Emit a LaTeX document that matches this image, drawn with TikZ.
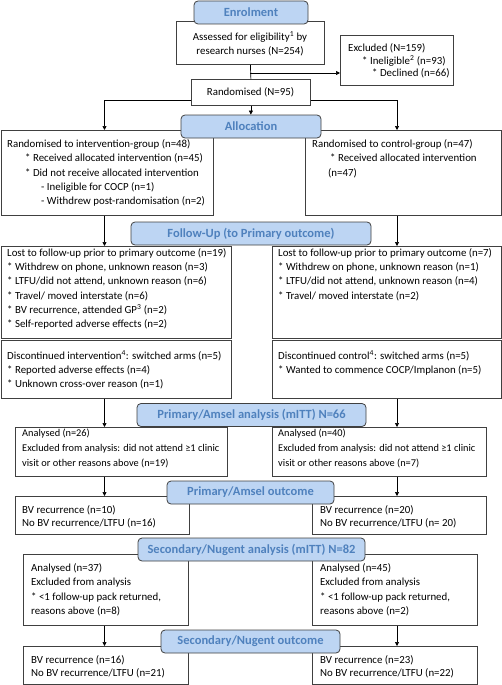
\documentclass[tikz,border=0pt]{standalone}
\usepackage{fontspec}
\setmainfont{Carlito}
\usetikzlibrary{arrows.meta}
\definecolor{hdrfill}{HTML}{BDD5F3}
\definecolor{hdrtext}{HTML}{4F81BD}
\definecolor{bord}{HTML}{404040}
\tikzset{
 bx/.style={draw=bord, line width=0.8pt, fill=white, rectangle, inner sep=0pt, anchor=north west},
 hdr/.style={draw=bord, line width=0.8pt, fill=hdrfill, rounded corners=4pt, inner sep=0pt, minimum height=23pt, font=\fontsize{12.5}{14}\selectfont\bfseries, text=hdrtext},
 txt/.style={inner sep=0pt, anchor=north west, align=left, font=\fontsize{10.85}{14.3}\selectfont},
 arr/.style={-{Triangle[length=4pt,width=4pt]}, line width=0.7pt},
 ln/.style={line width=0.7pt},
}
\newcommand\ind[1]{\hspace*{#1pt}}
\begin{document}
\begin{tikzpicture}[x=1pt,y=-1pt]
\useasboundingbox (0,0) rectangle (502,685);
% boxes
\node[bx, minimum width=148pt, minimum height=43pt] (asm) at (176,21) {};
\node[bx, minimum width=113pt, minimum height=50pt] (exc) at (340,35) {};
\node[bx, minimum width=119pt, minimum height=26pt] (rand) at (191,79) {};
\node[bx, minimum width=212pt, minimum height=85pt] (alL) at (0.5,130) {};
\node[bx, minimum width=196pt, minimum height=85pt] (alR) at (305,130) {};
\node[bx, minimum width=230pt, minimum height=92pt] (ltL) at (0.5,246) {};
\node[bx, minimum width=229pt, minimum height=92pt] (ltR) at (272,246) {};
\node[bx, minimum width=230pt, minimum height=58pt] (dcL) at (0.5,340) {};
\node[bx, minimum width=229pt, minimum height=58pt] (dcR) at (272,340) {};
\node[bx, minimum width=212pt, minimum height=49pt] (anL) at (15,427) {};
\node[bx, minimum width=214pt, minimum height=49pt] (anR) at (272,427) {};
\node[bx, minimum width=174pt, minimum height=38pt] (poL) at (15,496) {};
\node[bx, minimum width=174pt, minimum height=38pt] (poR) at (312,496) {};
\node[bx, minimum width=165pt, minimum height=71pt] (saL) at (23,554) {};
\node[bx, minimum width=165pt, minimum height=71pt] (saR) at (312,554) {};
\node[bx, minimum width=165pt, minimum height=38pt] (soL) at (23,646) {};
\node[bx, minimum width=165pt, minimum height=38pt] (soR) at (312,646) {};
% texts
\node[txt, anchor=north, align=center, font=\fontsize{10.85}{14.7}\selectfont] (asmt) at (250,31) {Assessed for eligibility\textsuperscript{1} by\\research nurses (N=254)};
\node[txt, font=\fontsize{10.85}{12.3}\selectfont] (exct) at (348,43.7) {Excluded (N=159)\\\ind{14}* Ineligible\textsuperscript{2} (n=93)\\\ind{24}* Declined (n=66)};
\node[txt, anchor=north] (randt) at (250.5,87.3) {Randomised (N=95)};
\node[txt] (alLt) at (7,139.3) {Randomised to intervention-group (n=48)\\\ind{18}* Received allocated intervention (n=45)\\\ind{18}* Did not receive allocated intervention\\\ind{34}- Ineligible for COCP (n=1)\\\ind{34}- Withdrew post-randomisation (n=2)};
\node[txt] (alRt) at (312,139.3) {Randomised to control-group (n=47)\\\ind{18}* Received allocated intervention\\\ind{16}(n=47)};
\node[txt, font=\fontsize{10.85}{14.2}\selectfont] (ltLt) at (7,248.3) {Lost to follow-up prior to primary outcome (n=19)\\* Withdrew on phone, unknown reason (n=3)\\* LTFU/did not attend, unknown reason (n=6)\\* Travel/ moved interstate (n=6)\\* BV recurrence, attended GP\textsuperscript{3} (n=2)\\* Self-reported adverse effects (n=2)};
\node[txt, font=\fontsize{10.85}{14.2}\selectfont] (ltRt) at (278,248.3) {Lost to follow-up prior to primary outcome (n=7)\\* Withdrew on phone, unknown reason (n=1)\\* LTFU/did not attend, unknown reason (n=4)\\* Travel/ moved interstate (n=2)};
\node[txt] (dcLt) at (7,350) {Discontinued intervention\textsuperscript{4}: switched arms (n=5)\\* Reported adverse effects (n=4)\\* Unknown cross-over reason (n=1)};
\node[txt] (dcRt) at (278,350) {Discontinued control\textsuperscript{4}: switched arms (n=5)\\* Wanted to commence COCP/Implanon (n=5)};
\node[txt, font=\fontsize{10.35}{14.8}\selectfont] (anLt) at (22,429) {Analysed (n=26)\\Excluded from analysis: did not attend ≥1 clinic\\visit or other reasons above (n=19)};
\node[txt, font=\fontsize{10.35}{14.8}\selectfont] (anRt) at (278,429) {Analysed (n=40)\\Excluded from analysis: did not attend ≥1 clinic\\visit or other reasons above (n=7)};
\node[txt, font=\fontsize{10.85}{13.3}\selectfont] (poLt) at (22,505) {BV recurrence (n=10)\\No BV recurrence/LTFU (n=16)};
\node[txt, font=\fontsize{10.85}{13.3}\selectfont] (poRt) at (320,505) {BV recurrence (n=20)\\No BV recurrence/LTFU (n= 20)};
\node[txt] (saLt) at (31,563.3) {Analysed (n=37)\\Excluded from analysis\\* <1 follow-up pack returned,\\reasons above (n=8)};
\node[txt] (saRt) at (320,563.3) {Analysed (n=45)\\Excluded from analysis\\* <1 follow-up pack returned,\\reasons above (n=2)};
\node[txt, font=\fontsize{10.85}{13.3}\selectfont] (soLt) at (31,655) {BV recurrence (n=16)\\No BV recurrence/LTFU (n=21)};
\node[txt, font=\fontsize{10.85}{13.3}\selectfont] (soRt) at (320,655) {BV recurrence (n=23)\\No BV recurrence/LTFU (n=22)};
% connectors
\coordinate (L) at (104.5,0);
\coordinate (R) at (397,0);
\coordinate (yr) at (0,100);
\coordinate (ye) at (0,73);
\draw[ln] (asm.south) -- (rand.north);
\draw[arr] (asm.south |- ye) -- (exc.west |- ye);
\draw[arr] (rand.west |- yr) -| (L |- alL.north);
\draw[arr] (rand.east |- yr) -| (R |- alR.north);
\draw[arr] (L |- alL.south) -- (L |- ltL.north);
\draw[arr] (R |- alR.south) -- (R |- ltR.north);
\draw[arr] (L |- dcL.south) -- (L |- anL.north);
\draw[arr] (R |- dcR.south) -- (R |- anR.north);
\draw[arr] (L |- anL.south) -- (L |- poL.north);
\draw[arr] (R |- anR.south) -- (R |- poR.north);
\draw[arr] (L |- saL.south) -- (L |- soL.north);
\draw[arr] (R |- saR.south) -- (R |- soR.north);
% headers
\node[hdr, minimum width=114pt] (h1) at (251,12.5) {Enrolment};
\node[hdr, minimum width=140pt] (h2) at (251,126.5) {Allocation};
\node[hdr, minimum width=240pt] (h3) at (251,233.5) {Follow-Up (to Primary outcome)};
\node[hdr, minimum width=229pt] (h4) at (251.5,415) {Primary/Amsel analysis (mITT) N=66};
\node[hdr, minimum width=167pt] (h5) at (250.5,492.5) {Primary/Amsel outcome};
\node[hdr, minimum width=227pt] (h6) at (251.5,549.5) {Secondary/Nugent analysis (mITT) N=82};
\node[hdr, minimum width=179pt] (h7) at (250.5,641.5) {Secondary/Nugent outcome};
\draw[arr] (rand.south) -- (rand.south |- h2.north);
\end{tikzpicture}
\end{document}
